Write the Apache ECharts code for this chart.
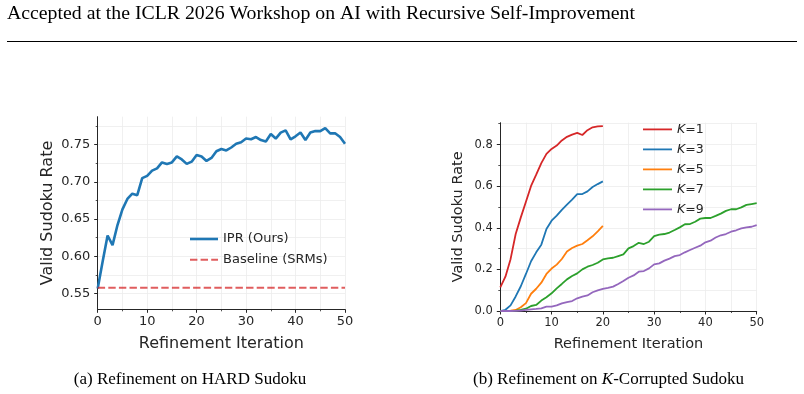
<!DOCTYPE html>
<html><head><meta charset="utf-8">
<script src="https://cdn.jsdelivr.net/npm/echarts@6/dist/echarts.min.js"></script>
<style>html,body{margin:0;padding:0;background:#fff}#c{width:804px;height:394px}</style>
</head><body><div id="c"></div>
<script>
// ---------- data ----------
const iterLong = [0,1,2,3,4,5,6,7,8,9,10,11,12,13,14,15,16,17,18,19,20,21,22,23,24,25,26,27,28,29,30,31,32,33,34,35,36,37,38,39,40,41,42,43,44,45,46,47,48,49,50];
const iterShort = [0,1,2,3,4,5,6,7,8,9,10,11,12,13,14,15,16,17,18,19,20];

const iprValues = [0.557,0.593,0.628,0.615,0.642,0.663,0.677,0.684,0.682,0.705,0.708,0.715,0.718,0.726,0.724,0.726,0.734,0.730,0.724,0.727,0.736,0.734,0.728,0.732,0.741,0.744,0.742,0.746,0.751,0.753,0.758,0.757,0.760,0.756,0.754,0.764,0.758,0.766,0.769,0.757,0.761,0.766,0.756,0.766,0.768,0.768,0.772,0.765,0.765,0.760,0.751];
const baselineValue = 0.558;

const k1Values = [0.113,0.165,0.249,0.370,0.450,0.525,0.601,0.655,0.711,0.755,0.779,0.795,0.820,0.837,0.848,0.856,0.846,0.869,0.883,0.887,0.889];
const k3Values = [0.000,0.006,0.027,0.070,0.119,0.178,0.239,0.282,0.319,0.394,0.434,0.458,0.486,0.511,0.535,0.562,0.562,0.575,0.596,0.610,0.623];
const k5Values = [0.000,0.000,0.002,0.005,0.018,0.038,0.083,0.107,0.136,0.178,0.204,0.223,0.250,0.286,0.303,0.314,0.322,0.340,0.359,0.383,0.409];
const k7Values = [0.000,0.000,0.001,0.002,0.005,0.011,0.024,0.029,0.050,0.066,0.085,0.109,0.130,0.152,0.168,0.181,0.200,0.213,0.221,0.232,0.248,0.253,0.256,0.264,0.272,0.301,0.312,0.328,0.322,0.333,0.360,0.367,0.370,0.377,0.389,0.402,0.417,0.418,0.429,0.444,0.447,0.447,0.457,0.468,0.481,0.489,0.489,0.498,0.510,0.514,0.518];
const k9Values = [0.000,0.000,0.000,0.001,0.002,0.005,0.008,0.010,0.013,0.021,0.021,0.027,0.037,0.043,0.048,0.061,0.069,0.075,0.090,0.099,0.106,0.111,0.117,0.130,0.144,0.160,0.171,0.189,0.192,0.205,0.224,0.229,0.242,0.252,0.264,0.269,0.282,0.293,0.304,0.314,0.330,0.338,0.353,0.364,0.370,0.381,0.388,0.397,0.402,0.405,0.413];

const leftYTicks = [0.55,0.60,0.65,0.70,0.75];
const leftYMinor = [0.575,0.625,0.675,0.725,0.775];
const rightYTicks = [0,0.2,0.4,0.6,0.8];
const rightYMinor = [0.1,0.3,0.5,0.7,0.9];

const headerText = 'Accepted at the ICLR 2026 Workshop on AI with Recursive Self-Improvement';
const captionA = '(a) Refinement on HARD Sudoku';
const captionB = '(b) Refinement on {i|K}-Corrupted Sudoku';

// ---------- chart ----------
const FONT = 'DejaVu Sans';
const TXT = '#262626';
const GRIDC = '#ececec';
const pairs = (xs, ys) => xs.map((x, i) => [x, ys[i]]);

const L = {left: 97.7, top: 116.7, width: 247.3, height: 192.6};
const R = {left: 500.3, top: 122.7, width: 256.4, height: 188.3};

const SOLID_ICON_L = 'path://M0,0H28V2.6H0Z';
const DASH_ICON_L = 'path://M0,0H7.4V2H0Z M10.6,0H18V2H10.6Z M21.2,0H28V2H21.2Z';
const SOLID_ICON_R = 'path://M0,0H29V1.8H0Z';

function xAxisMain(gi, fs, nameFs) {
  return {
    gridIndex: gi, type: 'value', min: 0, max: 50, interval: 10,
    name: 'Refinement Iteration', nameLocation: 'middle', nameGap: gi === 0 ? 27 : 26,
    nameTextStyle: {fontFamily: FONT, fontSize: nameFs, color: TXT},
    axisLine: {show: true, onZero: false, lineStyle: {color: TXT, width: 1}},
    axisTick: {show: true, length: 3.5, inside: false, lineStyle: {color: TXT, width: 1}},
    minorTick: {show: true, splitNumber: 2, length: 2, lineStyle: {color: TXT, width: 0.8}},
    axisLabel: {fontFamily: FONT, fontSize: fs, color: TXT, margin: 6},
    splitLine: {show: true, lineStyle: {color: GRIDC, width: 0.8}},
    minorSplitLine: {show: true, lineStyle: {color: GRIDC, width: 0.8}}
  };
}
function xAxisHidden(gi) {
  return {gridIndex: gi, type: 'value', min: 0, max: 50, show: false};
}
function yAxisMain(gi, min, max, ticks, fs, nameFs, gap, dec) {
  return {
    gridIndex: gi, type: 'value', min: min, max: max,
    name: 'Valid Sudoku Rate', nameLocation: 'middle', nameGap: gap,
    nameTextStyle: {fontFamily: FONT, fontSize: nameFs, color: TXT},
    axisLine: {show: true, onZero: false, lineStyle: {color: TXT, width: 1}},
    axisTick: {show: true, length: 3.5, customValues: ticks, lineStyle: {color: TXT, width: 1}},
    axisLabel: {fontFamily: FONT, fontSize: fs, color: TXT, margin: 7.5, customValues: ticks,
                formatter: v => Number(v).toFixed(dec)},
    splitLine: {show: true, lineStyle: {color: GRIDC, width: 0.8}}
  };
}
function yAxisMinor(gi, min, max, ticks) {
  return {
    gridIndex: gi, type: 'value', min: min, max: max,
    axisLine: {show: false},
    axisTick: {show: true, length: 2, customValues: ticks, lineStyle: {color: TXT, width: 0.8}},
    axisLabel: {show: false, customValues: ticks},
    splitLine: {show: true, lineStyle: {color: GRIDC, width: 0.8}}
  };
}

const chart = echarts.init(document.getElementById('c'), null, {renderer: 'canvas'});
const lineSeries = (name, xi, yi, data, color, w, type) => ({
  name, type: 'line', xAxisIndex: xi, yAxisIndex: yi, data, symbol: 'none', showSymbol: false,
  lineStyle: {color, width: w, type: type || 'solid', cap: 'butt'}, itemStyle: {color},
  animation: false, z: 3, clip: true
});

chart.setOption({
  animation: false,
  backgroundColor: '#fff',
  grid: [
    Object.assign({}, L), Object.assign({}, L),
    Object.assign({}, R), Object.assign({}, R)
  ].map(g => Object.assign(g, {containLabel: false})),
  xAxis: [xAxisMain(0, 13, 16), xAxisHidden(1), xAxisMain(2, 11.5, 14.5), xAxisHidden(3)],
  yAxis: [
    yAxisMain(0, 0.529, 0.7873, leftYTicks, 13, 16, 42, 2),
    yAxisMinor(1, 0.529, 0.7873, leftYMinor),
    yAxisMain(2, 0, 0.905, rightYTicks, 11.5, 14.5, 35, 1),
    yAxisMinor(3, 0, 0.905, rightYMinor)
  ],
  legend: [
    {
      left: 185, top: 227, orient: 'vertical', itemWidth: 28, itemHeight: 2.6, itemGap: 6.7,
      data: [{name: 'IPR (Ours)', icon: SOLID_ICON_L}, {name: 'Baseline (SRMs)', icon: DASH_ICON_L}],
      textStyle: {fontFamily: FONT, fontSize: 13, lineHeight: 14, color: TXT},
      selectedMode: false
    },
    {
      left: 638, top: 117.4, orient: 'vertical', itemWidth: 29, itemHeight: 1.8, itemGap: 6,
      data: ['K=1', 'K=3', 'K=5', 'K=7', 'K=9'].map(n => ({name: n, icon: SOLID_ICON_R})),
      formatter: n => '{i|K}{t|' + n.slice(1) + '}',
      textStyle: {fontFamily: FONT, fontSize: 12.5, lineHeight: 14, color: TXT,
                  rich: {i: {fontFamily: FONT, fontSize: 12.5, lineHeight: 14, fontStyle: 'italic', color: TXT},
                         t: {fontFamily: FONT, fontSize: 12.5, lineHeight: 14, color: TXT}}},
      selectedMode: false
    }
  ],
  series: [
    lineSeries('IPR (Ours)', 0, 0, pairs(iterLong, iprValues), '#1f77b4', 2.6),
    lineSeries('Baseline (SRMs)', 0, 0, [[iterLong[0], baselineValue], [iterLong[iterLong.length - 1], baselineValue]], 'rgba(214,39,40,0.75)', 2, [7.4, 3.2]),
    lineSeries('K=1', 2, 2, pairs(iterShort, k1Values), '#d62728', 1.8),
    lineSeries('K=3', 2, 2, pairs(iterShort, k3Values), '#1f77b4', 1.8),
    lineSeries('K=5', 2, 2, pairs(iterShort, k5Values), '#ff7f0e', 1.8),
    lineSeries('K=7', 2, 2, pairs(iterLong, k7Values), '#2ca02c', 1.8),
    lineSeries('K=9', 2, 2, pairs(iterLong, k9Values), '#9467bd', 1.8)
  ],
  graphic: [
    {type: 'text', left: 7, top: 4, style: {text: headerText, font: '19.8px "Liberation Serif"', fill: '#000'}},
    {type: 'line', shape: {x1: 7, y1: 41.5, x2: 797, y2: 41.5}, style: {stroke: '#000', lineWidth: 1}},
    {type: 'text', x: 190, y: 380, style: {text: captionA, fontFamily: 'Liberation Serif', fontSize: 17, fill: '#000', align: 'center', verticalAlign: 'middle'}},
    {type: 'text', x: 608.5, y: 380, style: {text: captionB, fontFamily: 'Liberation Serif', fontSize: 17, fill: '#000', align: 'center', verticalAlign: 'middle',
      rich: {i: {fontFamily: 'Liberation Serif', fontSize: 17, fontStyle: 'italic', fill: '#000'}}}}
  ]
});
</script></body></html>
